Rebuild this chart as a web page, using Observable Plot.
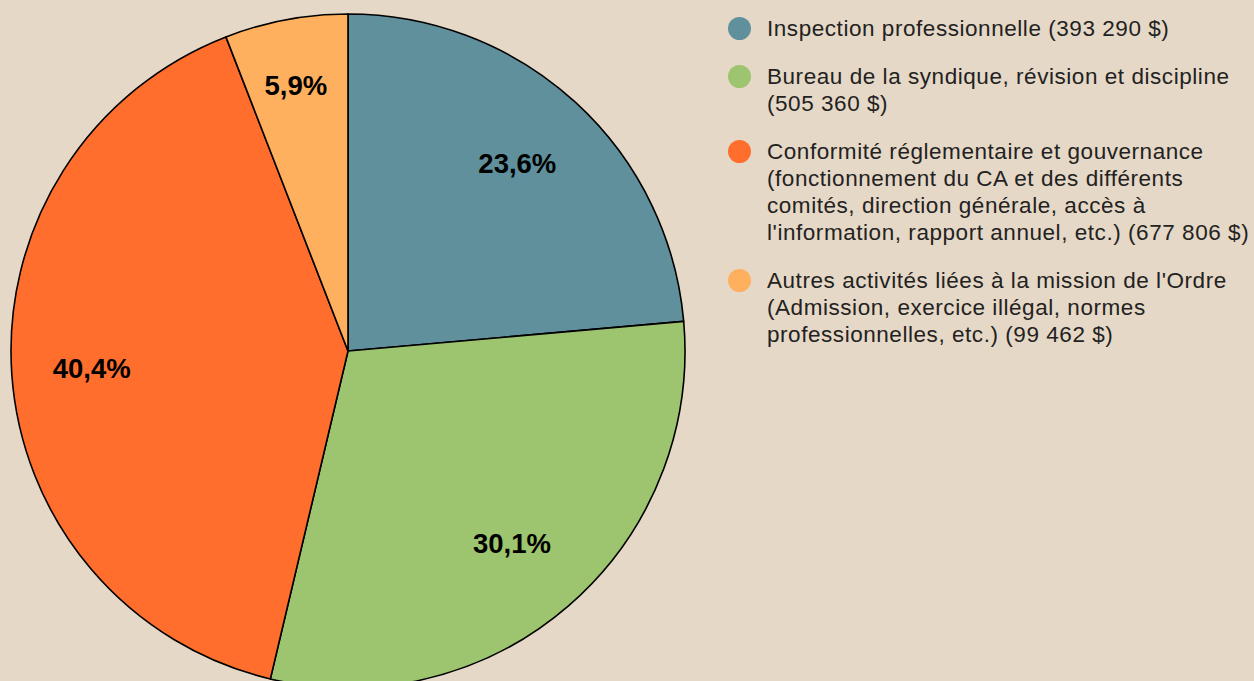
<!DOCTYPE html>
<html>
<head>
<meta charset="utf-8">
<script src="https://cdn.jsdelivr.net/npm/d3@7"></script>
<script src="https://cdn.jsdelivr.net/npm/@observablehq/plot@0.6"></script>
<style>
  html, body { margin: 0; padding: 0; background: #e6d8c6; overflow: hidden; }
  #wrap { position: relative; width: 1254px; height: 681px; }
  #chart { position: absolute; left: 0; top: 0; }
  #legend { position: absolute; left: 728px; top: 14.5px; font-family: "Liberation Sans", Arial, sans-serif; font-size: 22.5px; letter-spacing: 0.55px; line-height: 27px; color: #222; }
  .item { position: relative; padding-left: 39px; margin-bottom: 21px; white-space: pre; }
  .dot { position: absolute; left: 0; top: 2px; width: 23px; height: 23px; border-radius: 50%; }
</style>
</head>
<body>
<div id="wrap">
  <div id="chart"></div>
  <div id="legend"></div>
</div>
<script>
// ---- data ----
const categories = [
  "Inspection professionnelle",
  "Bureau de la syndique, révision et discipline",
  "Conformité réglementaire et gouvernance",
  "Autres activités liées à la mission de l'Ordre"
];
const legendLines = [
  ["Inspection professionnelle (393 290 $)"],
  ["Bureau de la syndique, révision et discipline", "(505 360 $)"],
  ["Conformité réglementaire et gouvernance", "(fonctionnement du CA et des différents", "comités, direction générale, accès à", "l'information, rapport annuel, etc.) (677 806 $)"],
  ["Autres activités liées à la mission de l'Ordre", "(Admission, exercice illégal, normes", "professionnelles, etc.) (99 462 $)"]
];
const amounts = [393290, 505360, 677806, 99462];
const percents = [23.6, 30.1, 40.4, 5.9];
const percentLabels = ["23,6%", "30,1%", "40,4%", "5,9%"];
const colors = ["#5f909c", "#9dc46e", "#ff6e2c", "#ffb05e"];

// ---- build slices ----
const data = categories.map((c, i) => ({category: c, amount: amounts[i], pct: percents[i], label: percentLabels[i], color: colors[i]}));
const arcs = d3.pie().sort(null).value(d => d.pct)(data);
const labels = arcs.map(a => {
  const mid = (a.startAngle + a.endAngle) / 2;
  const r = a.data.pct < 10 ? 0.80 : 0.755;
  return {x: r * Math.sin(mid), y: r * Math.cos(mid), label: a.data.label};
});

function pieMark(index, scales) {
  const cx = scales.x(0), cy = scales.y(0);
  const radius = scales.x(1) - scales.x(0);
  const arcGen = d3.arc().innerRadius(0).outerRadius(radius);
  const g = d3.create("svg:g").attr("transform", `translate(${cx},${cy})`);
  g.selectAll("path").data(arcs).join("path")
    .attr("d", arcGen)
    .attr("fill", d => d.data.color)
    .attr("stroke", "#000")
    .attr("stroke-width", 1.6)
    .attr("stroke-linejoin", "round");
  return g.node();
}

const plot = Plot.plot({
  width: 694,
  height: 688,
  marginLeft: 11,
  marginRight: 9,
  marginTop: 14,
  marginBottom: 0,
  x: {domain: [-1, 1], axis: null},
  y: {domain: [-1, 1], axis: null},
  style: {background: "transparent", overflow: "visible"},
  marks: [
    pieMark,
    Plot.text(labels, {
      x: "x", y: "y", text: "label",
      fontSize: 27.5, fontWeight: "bold", fill: "#000", dy: 0, dx: -3,
      fontFamily: "Liberation Sans, Arial, sans-serif"
    })
  ]
});
document.getElementById("chart").appendChild(plot);

// ---- legend ----
const legend = d3.select("#legend");
legendLines.forEach((lines, i) => {
  const item = legend.append("div").attr("class", "item");
  item.append("span").attr("class", "dot").style("background", colors[i]);
  item.append("span").text(lines.join("\n"));
});
</script>
</body>
</html>
